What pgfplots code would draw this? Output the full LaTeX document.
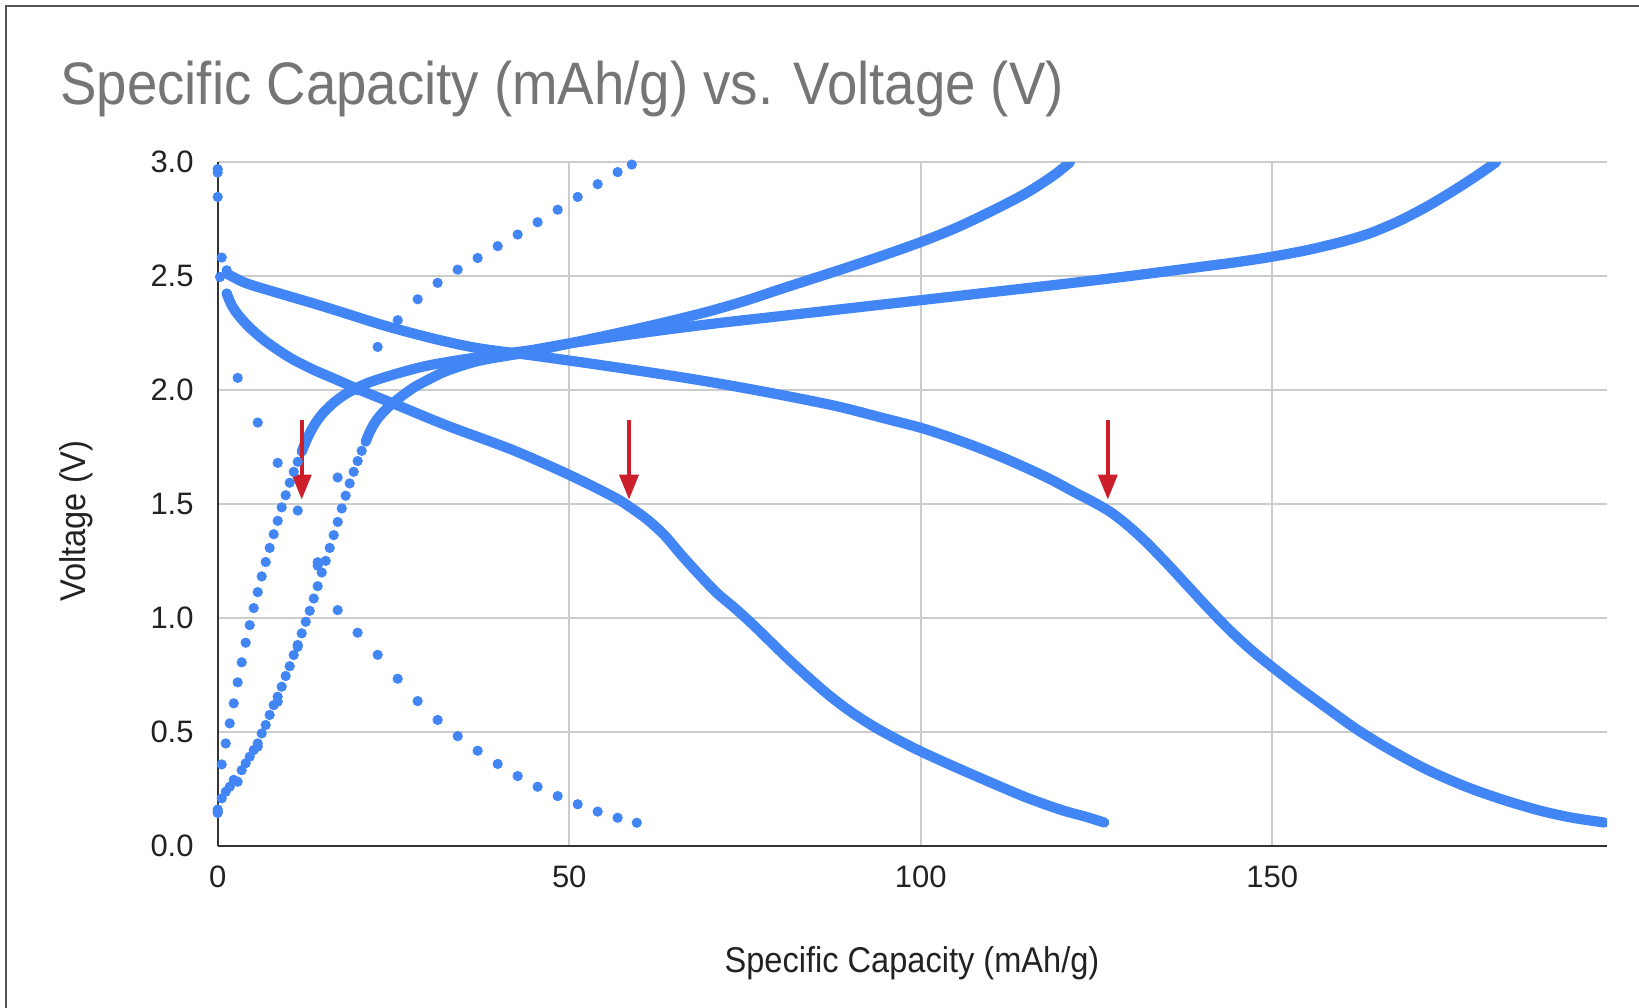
\documentclass[border=0pt]{standalone}
\usepackage{pgfplots}
\pgfplotsset{compat=1.18}
\usetikzlibrary{arrows.meta}
\usepackage{fontspec}
\setmainfont{Liberation Sans}
\newfontfamily\narrowsans[FakeStretch=0.91]{Liberation Sans}

\definecolor{gblue}{HTML}{4285F4}
\definecolor{arrowred}{HTML}{CC1F2A}
\definecolor{titlegray}{HTML}{757575}
\definecolor{gridgray}{HTML}{CCCCCC}
\definecolor{axisdark}{HTML}{333333}
\definecolor{framegray}{HTML}{555555}
\definecolor{textdark}{HTML}{222222}

\newcommand{\ttlfont}{\narrowsans\fontsize{30bp}{36bp}\selectfont}
\newcommand{\lblfont}{\narrowsans\fontsize{17.9bp}{21bp}\selectfont}

\begin{document}
\begin{tikzpicture}
\useasboundingbox (0,0) rectangle (819.5bp,504bp);
\draw[framegray, line width=1.25bp] (3bp,0) -- (3bp,501bp) -- (819.5bp,501bp);
\node[anchor=base west, inner sep=0pt, text=titlegray, font=\ttlfont]
    at (30bp,451.5bp) {Specific Capacity (mAh/g) vs. Voltage (V)};

\begin{axis}[
    at={(108.85bp,81bp)}, anchor=south west,
    scale only axis, width=694.65bp, height=341.85bp,
    xmin=0, xmax=197.6, ymin=0, ymax=3,
    axis lines=left,
    axis line style={-, draw=axisdark, line width=1.2bp},
    grid=major, grid style={gridgray, line width=1bp},
    major tick length=0pt,
    xtick={0,50,100,150}, xticklabels={0,50,100,150},
    ytick={0,0.5,1,1.5,2,2.5,3},
    yticklabels={0.0,0.5,1.0,1.5,2.0,2.5,3.0},
    ticklabel style={font=\fontsize{15.5bp}{18bp}\selectfont, text=textdark},
    xticklabel style={anchor=north, inner sep=0pt, yshift=-9.5bp},
    yticklabel style={anchor=east, inner sep=0pt, xshift=-11.85bp},
    every axis plot/.append style={gblue},
    dense/.style={no marks, line width=5.1bp, line cap=round, line join=round,
        smooth, tension=0.5},
    dots/.style={only marks, mark=*, mark size=2.35bp,
        mark options={draw=none, fill=gblue}},
]
% first cycle, sparse points
\addplot[dots] coordinates {
    (0,2.97) (2.84,2.054) (5.69,1.858) (8.53,1.681) (11.38,1.472)
    (14.22,1.245) (17.06,1.035) (19.9,0.936) (22.75,0.839) (25.6,0.734)
    (28.44,0.636) (31.28,0.553) (34.13,0.482) (36.97,0.418) (39.82,0.360)
    (42.66,0.307) (45.5,0.260) (48.35,0.219) (51.2,0.183) (54.04,0.151)
    (56.88,0.124) (59.6,0.102)};
\addplot[dots] coordinates {
    (0,0.15) (2.84,0.282) (5.69,0.436) (8.53,0.633) (11.38,0.874)
    (14.22,1.23) (17.06,1.617) (19.9,2.0) (22.75,2.19) (25.6,2.307)
    (28.44,2.399) (31.28,2.471) (34.13,2.529) (36.97,2.58) (39.82,2.632)
    (42.66,2.683) (45.5,2.737) (48.35,2.792) (51.2,2.848) (54.04,2.904)
    (56.88,2.957) (58.9,2.99)};

% discharge ending near 126 mAh/g
\addplot[dots] coordinates {(0,2.955) (0.33,2.497) (1.28,2.424)};
\addplot[dense] coordinates {
    (1.28,2.424) (2,2.372) (3,2.327) (4.5,2.276) (6.5,2.222) (8.5,2.178)
    (10.7,2.135) (13.6,2.09) (16.6,2.05) (20.3,2.0) (25.5,1.935)
    (32.6,1.845) (42,1.737) (50.1,1.627) (56.3,1.532) (58.5,1.49)
    (61,1.435) (63.5,1.365) (66,1.275) (68.5,1.19) (71,1.11) (73.5,1.045)
    (76,0.975) (78.5,0.9) (81,0.825) (84,0.74) (87,0.66) (90,0.59)
    (93,0.53) (96,0.478) (100,0.415) (105,0.345) (110,0.278) (115,0.213)
    (120,0.158) (123.5,0.128) (126.1,0.103)};

% discharge ending near 197 mAh/g
\addplot[dots] coordinates {(0,2.848) (0.57,2.582) (1.28,2.526)};
\addplot[dense] coordinates {
    (1.28,2.512) (4,2.47) (8.86,2.424) (13.7,2.38) (18.3,2.336) (23,2.29)
    (27.8,2.249) (32.5,2.213) (37.3,2.183) (44.4,2.154) (50,2.13)
    (56.3,2.102) (65.7,2.058) (73,2.02) (80,1.98) (88,1.93) (95,1.875)
    (100,1.835) (104,1.795) (108,1.75) (112,1.70) (116,1.645) (119,1.6)
    (122,1.55) (124.5,1.51) (127,1.465) (129.5,1.405) (132,1.335)
    (135,1.24) (138,1.14) (141,1.04) (144,0.945) (147,0.86) (150,0.785)
    (154,0.69) (158,0.6) (162,0.512) (166.6,0.425) (172,0.335)
    (177.4,0.262) (182.8,0.203) (188.1,0.155) (192.5,0.125) (197.2,0.103)};

% charge, fast rise, up to 3 V near 182 mAh/g
\addplot[dots] coordinates {
    (0,0.16) (0.57,0.358) (1.14,0.45) (1.71,0.538) (2.28,0.626) (2.84,0.718)
    (3.41,0.806) (3.98,0.892) (4.55,0.969) (5.12,1.044) (5.69,1.114)
    (6.26,1.183) (6.83,1.246) (7.39,1.308) (7.96,1.368) (8.53,1.427)
    (9.1,1.486) (9.67,1.539) (10.24,1.594) (10.81,1.642) (11.38,1.686)};
\addplot[dense] coordinates {
    (11.95,1.73) (12.5,1.772) (13.2,1.818) (14,1.86) (15,1.9) (16.5,1.945)
    (18.3,1.985) (21.2,2.03) (25.5,2.073) (30.2,2.11) (37.3,2.146)
    (44.4,2.175) (50,2.205) (60,2.25) (70,2.29) (80,2.325) (90,2.36)
    (100,2.395) (110,2.43) (120,2.465) (130,2.502) (140,2.542) (145,2.562)
    (150,2.586) (155,2.615) (160,2.652) (164,2.69) (168,2.742) (172,2.806)
    (176,2.88) (179,2.94) (181.8,3.0)};

% charge, slow rise, up to 3 V near 121 mAh/g
\addplot[dots] coordinates {
    (0,0.145) (0.57,0.209) (1.14,0.238) (1.71,0.26) (2.28,0.29)
    (3.41,0.333) (3.98,0.363) (4.55,0.392) (5.12,0.421) (5.69,0.45)
    (6.26,0.494) (6.83,0.531) (7.39,0.575) (7.96,0.618) (8.53,0.655)
    (9.1,0.699) (9.67,0.746) (10.24,0.789) (10.81,0.838) (11.38,0.882)
    (11.95,0.933) (12.52,0.984) (13.09,1.032) (13.66,1.086) (14.22,1.14)
    (14.79,1.2) (15.36,1.251) (15.93,1.308) (16.5,1.364) (17.07,1.422)
    (17.64,1.481) (18.2,1.537) (18.77,1.591) (19.34,1.642) (19.91,1.689)
    (20.48,1.734)};
\addplot[dense] coordinates {
    (21.05,1.774) (21.6,1.815) (22.2,1.85) (23,1.885) (24,1.918)
    (25.5,1.958) (27.8,2.01) (30,2.047) (32.6,2.085) (37.3,2.13)
    (44.4,2.168) (50,2.205) (55,2.238) (60,2.272) (65,2.308) (70,2.347)
    (75,2.392) (80,2.443) (85,2.493) (90,2.543) (95,2.595) (100,2.65)
    (105,2.712) (110,2.785) (115,2.865) (119,2.945) (121.2,3.0)};

% red arrows
\draw[arrowred, line width=2bp, -{Triangle[length=12.5bp, width=9.5bp]}]
    (axis cs:11.95,1.868) -- (axis cs:11.95,1.52);
\draw[arrowred, line width=2bp, -{Triangle[length=12.5bp, width=9.5bp]}]
    (axis cs:58.5,1.868) -- (axis cs:58.5,1.52);
\draw[arrowred, line width=2bp, -{Triangle[length=12.5bp, width=9.5bp]}]
    (axis cs:126.6,1.868) -- (axis cs:126.6,1.52);
\end{axis}

\node[anchor=base, inner sep=0pt, font=\lblfont, text=textdark]
    at (456bp,18bp) {Specific Capacity (mAh/g)};
\node[rotate=90, anchor=base, inner sep=0pt, font=\lblfont, text=textdark]
    at (42.5bp,243.5bp) {Voltage (V)};
\end{tikzpicture}
\end{document}
